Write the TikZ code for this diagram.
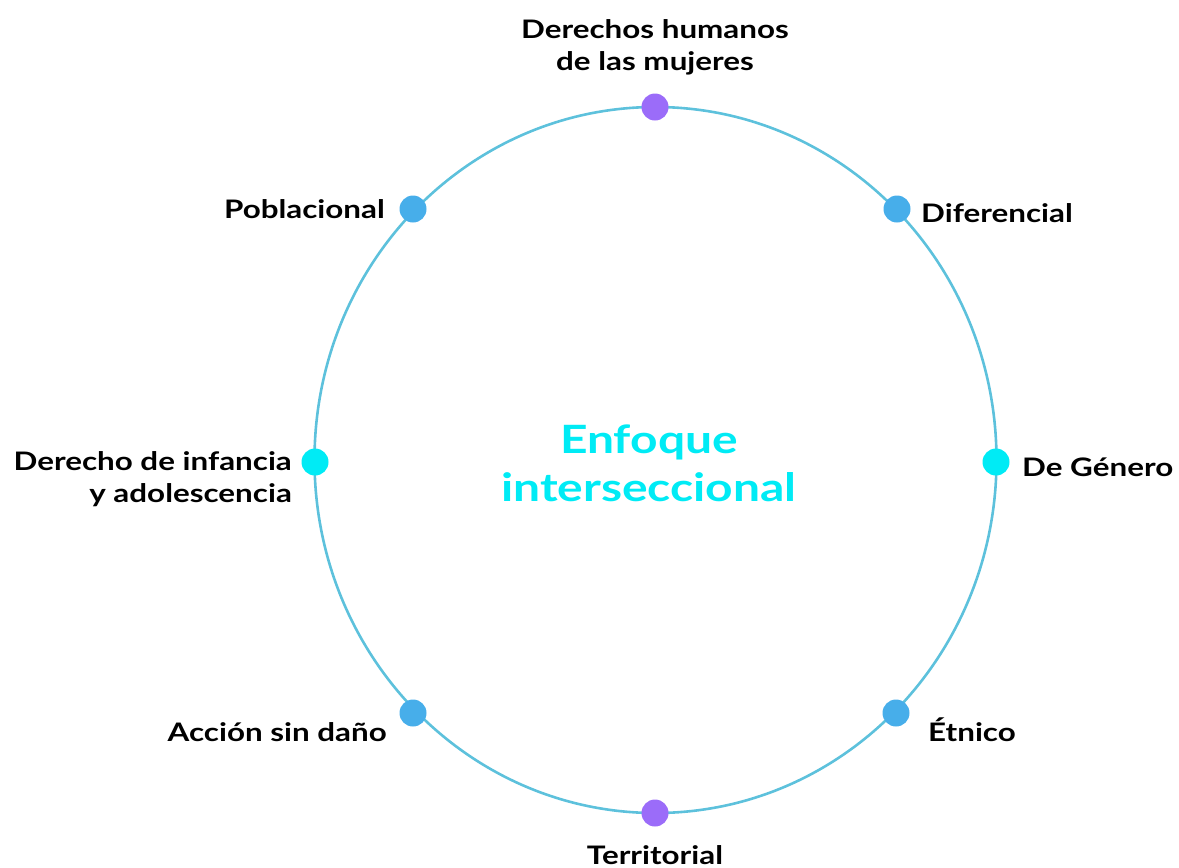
\documentclass[tikz,border=0pt]{standalone}
\usepackage{fontspec}
\setmainfont{Lato}[FakeStretch=1.23]
\definecolor{ring}{HTML}{5DC1DC}
\definecolor{purp}{HTML}{9B6CF9}
\definecolor{cyn}{HTML}{00EBF5}
\definecolor{blu}{HTML}{47AEEA}
\tikzset{
  dot/.style={circle,fill=#1,inner sep=0pt,minimum size=27pt},
  lab/.style={font=\fontsize{25.5}{32}\selectfont\bfseries,text=black,inner sep=0pt,align=center},
}
\begin{document}
\begin{tikzpicture}[x=1pt,y=-1pt]
\useasboundingbox (0,0) rectangle (1179,868);
\draw[ring,line width=2.6pt] (655.5,460) ellipse [x radius=341, y radius=353];
\node[dot=purp] (top) at (655,107) {};
\node[dot=blu] (pob) at (413,209) {};
\node[dot=blu] (dif) at (897,209) {};
\node[dot=cyn] (inf) at (315,462) {};
\node[dot=cyn] (gen) at (996,462) {};
\node[dot=blu] (acc) at (413,713) {};
\node[dot=blu] (etn) at (896,713) {};
\node[dot=purp] (ter) at (655,813) {};
\node[lab,anchor=base] (ltop) at (655,70) {Derechos humanos\\de las mujeres};
\node[lab,anchor=base east] (lpob) at (385,218) {Poblacional};
\node[lab,anchor=base west] (ldif) at (921,222) {Diferencial};
\node[lab,anchor=base east,align=right] (linf) at (292,502) {Derecho de infancia\\y adolescencia};
\node[lab,anchor=base west] (lgen) at (1022,476) {De Género};
\node[lab,anchor=base east] (lacc) at (387,741) {Acción sin daño};
\node[lab,anchor=base west] (letn) at (928,741) {Étnico};
\node[lab,anchor=base] (lter) at (655,864) {Territorial};
\node[font=\fontsize{39}{48}\selectfont\bfseries,text=cyn,align=center,anchor=base] (center) at (649,501) {Enfoque\\interseccional};
\end{tikzpicture}
\end{document}
